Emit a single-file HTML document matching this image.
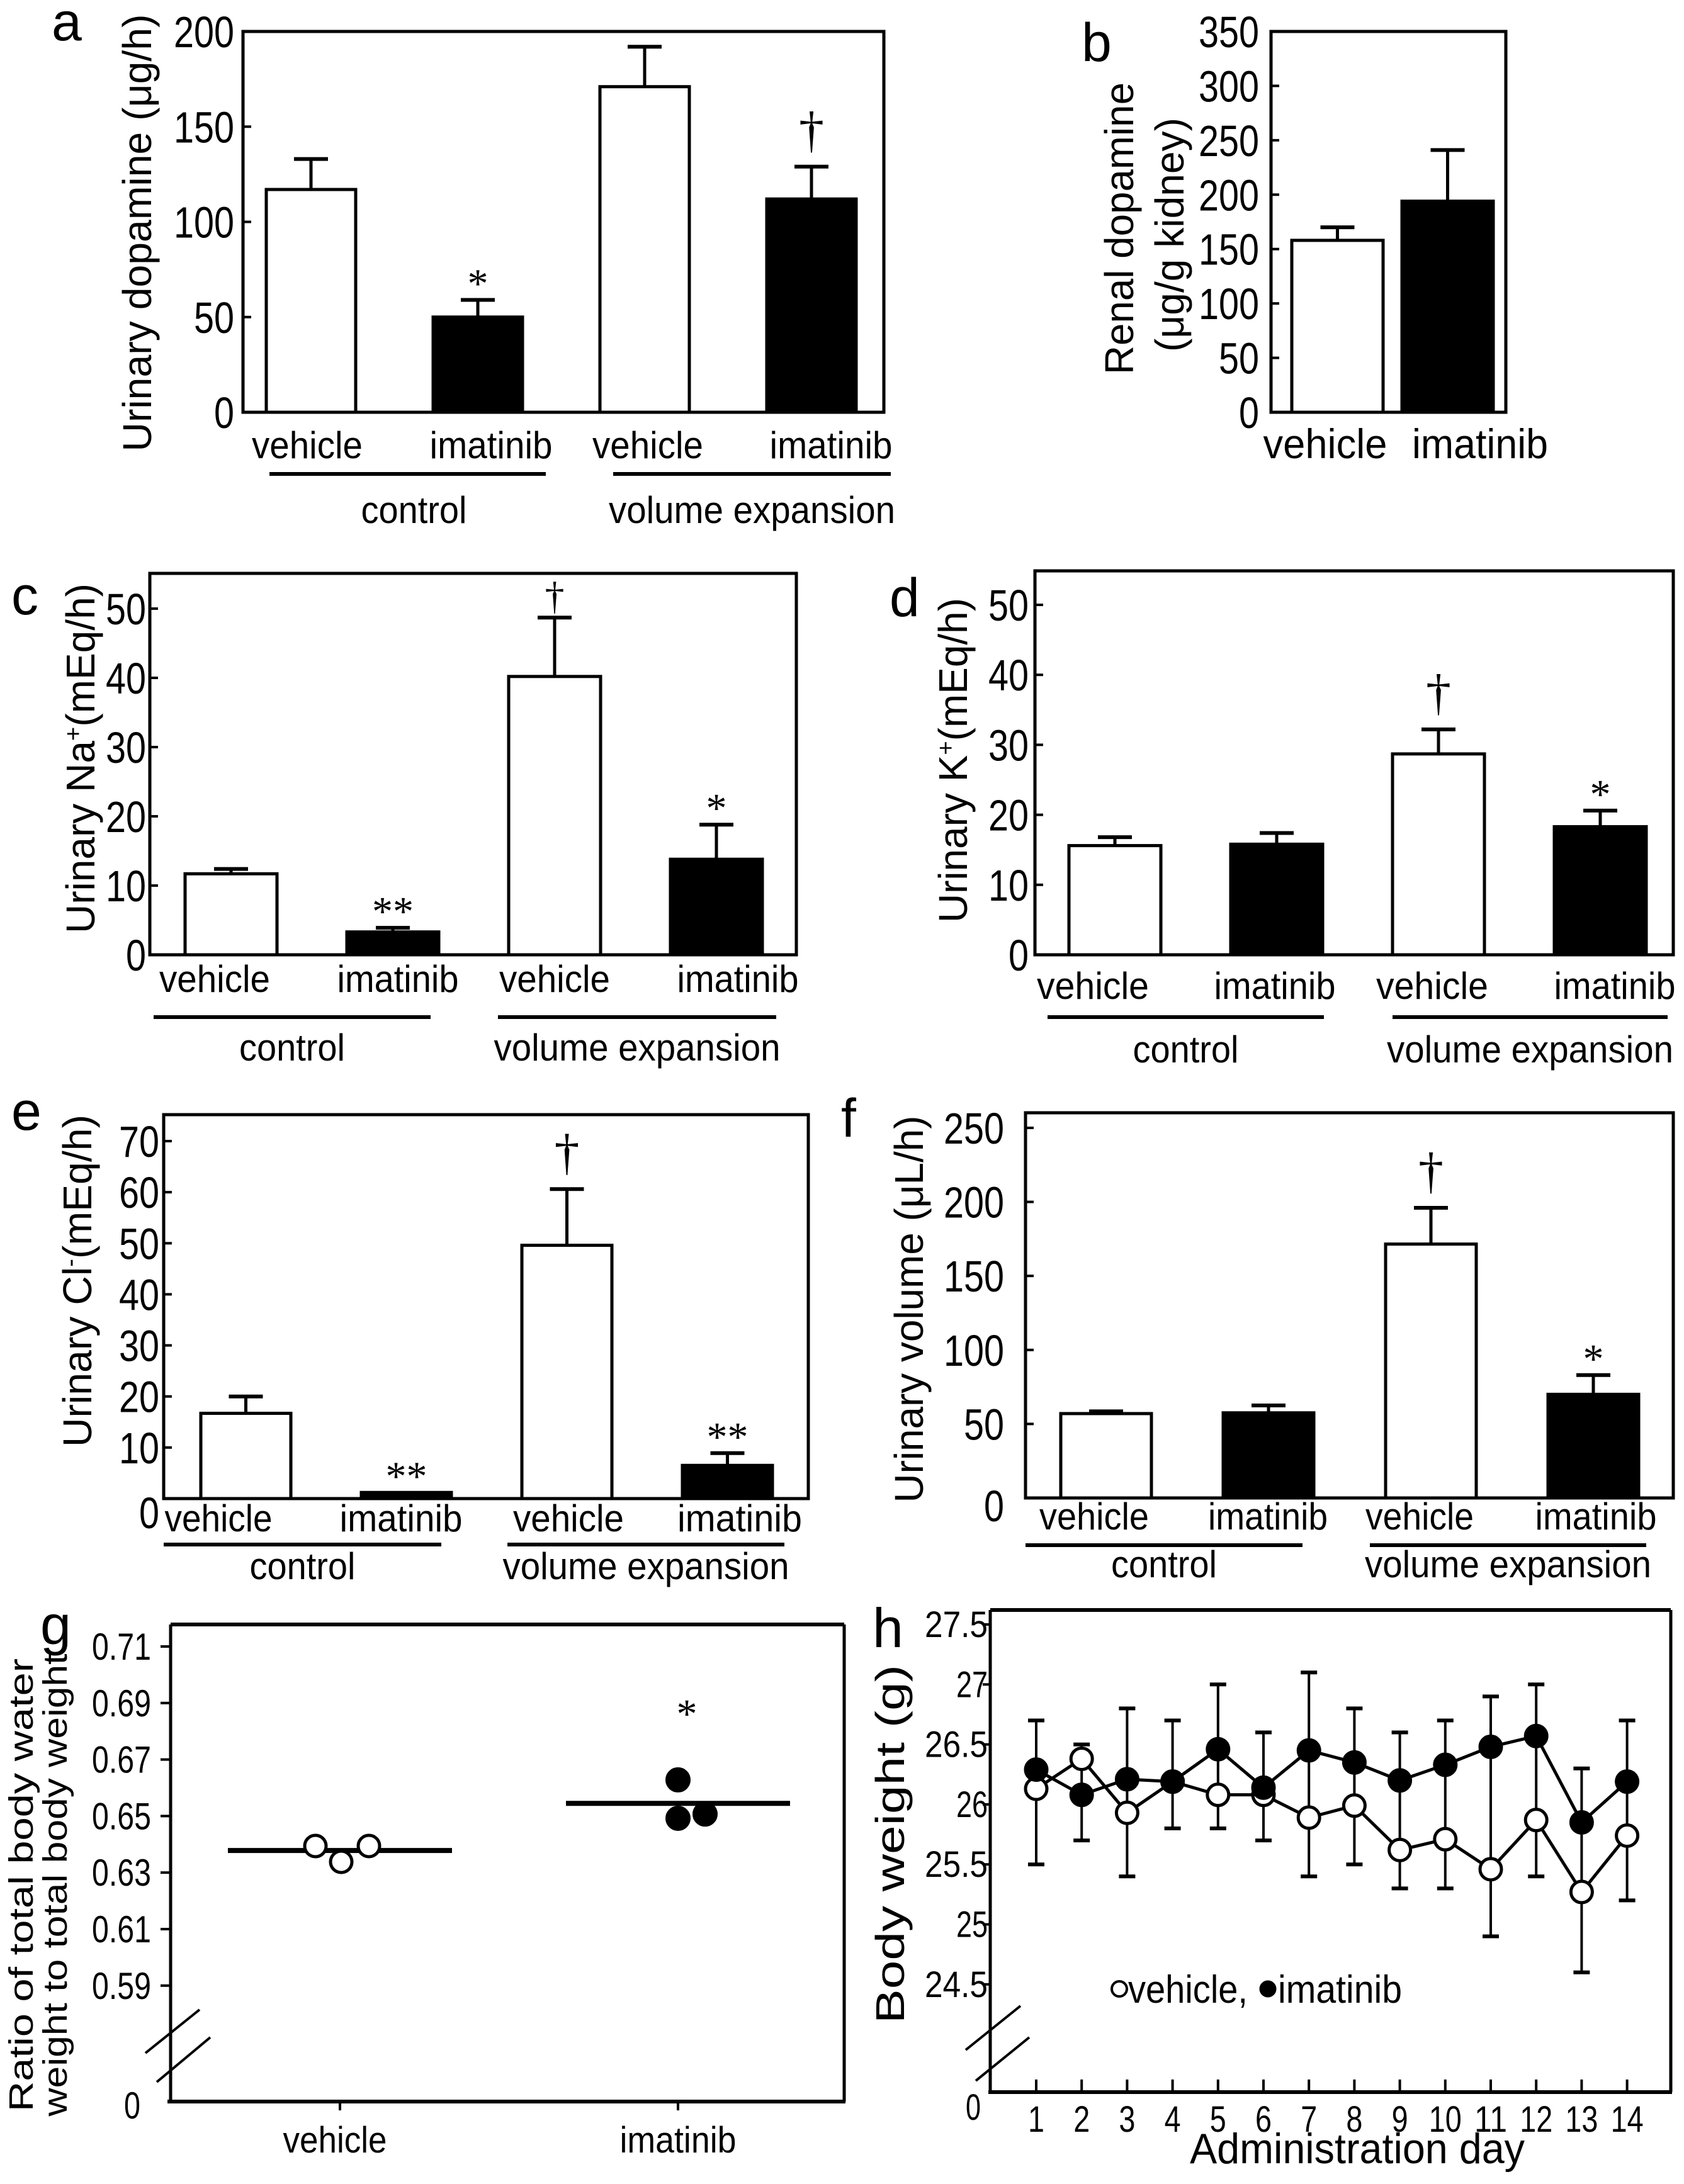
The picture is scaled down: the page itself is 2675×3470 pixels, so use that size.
<!DOCTYPE html>
<html><head><meta charset="utf-8"><title>Figure</title>
<style>html,body{margin:0;padding:0;background:#fff}svg{display:block}text{font-family:"Liberation Sans",Arial,sans-serif;fill:#000}</style>
</head><body>
<svg id="fig" xmlns="http://www.w3.org/2000/svg" width="2675" height="3470" viewBox="0 0 2675 3470"></svg>
<script>
// ---------- DATA ----------
const categories = ['vehicle','imatinib','vehicle','imatinib'];
const groups = ['control','volume expansion'];
const aValues = [117, 50, 171, 112];
const aErrors = [16, 9, 21, 17];
const aMarks = ['', '*', '', '†'];
const aTicks = [0, 50, 100, 150, 200];
const bCategories = ['vehicle','imatinib'];
const bValues = [158, 194];
const bErrors = [12, 47];
const bTicks = [0, 50, 100, 150, 200, 250, 300, 350];
const cValues = [11.7, 3.3, 40.2, 13.8];
const cErrors = [0.7, 0.6, 8.5, 5.0];
const cMarks = ['', '**', '†', '*'];
const cTicks = [0, 10, 20, 30, 40, 50];
const dValues = [15.6, 15.8, 28.7, 18.3];
const dErrors = [1.2, 1.6, 3.5, 2.3];
const dMarks = ['', '', '†', '*'];
const dTicks = [0, 10, 20, 30, 40, 50];
const eValues = [16.7, 1.2, 49.6, 6.5];
const eErrors = [3.3, 0, 11.0, 2.4];
const eMarks = ['', '**', '†', '**'];
const eTicks = [0, 10, 20, 30, 40, 50, 60, 70];
const fValues = [57, 57.5, 171.5, 70];
const fErrors = [1.5, 5, 24.5, 13];
const fMarks = ['', '', '†', '*'];
const fTicks = [0, 50, 100, 150, 200, 250];
const gVehicle = [0.6394, 0.6338, 0.6394];
const gImatinib = [0.6628, 0.6492, 0.6507];
const gMeans = [0.6378, 0.6545];
const gTicks = ['0.59','0.61','0.63','0.65','0.67','0.69','0.71'];
const hDays = [1,2,3,4,5,6,7,8,9,10,11,12,13,14];
const hVehicle = [26.13,26.38,25.93,26.19,26.08,26.08,25.89,25.99,25.62,25.71,25.46,25.87,25.27,25.74];
const hImatinib = [26.29,26.08,26.21,26.19,26.46,26.14,26.45,26.35,26.20,26.33,26.48,26.57,25.85,26.19];
const hVehicleErr = [0.63,0.68,0.53,0.39,0.28,0.38,0.49,0.49,0.32,0.41,0.56,0.47,0.67,0.54];
const hImatinibErr = [0.41,0.42,0.59,0.51,0.54,0.46,0.65,0.45,0.40,0.37,0.42,0.43,0.45,0.51];
const hTicks = ['24.5','25','25.5','26','26.5','27','27.5'];

// ---------- HELPERS ----------
const NS = 'http://www.w3.org/2000/svg';
const svg = document.getElementById('fig');
function mk(tag, attrs, parent) {
  const e = document.createElementNS(NS, tag);
  for (const k in attrs) e.setAttribute(k, attrs[k]);
  (parent || svg).appendChild(e);
  return e;
}
function txt(parent, x, y, str, size, anchor, len, name, fam) {
  const t = mk('text', {x: x, y: y, 'font-size': size, 'text-anchor': anchor || 'start'}, parent);
  if (len) { t.setAttribute('textLength', len); t.setAttribute('lengthAdjust', 'spacingAndGlyphs'); }
  if (fam) t.setAttribute('style', 'font-family:' + fam);
  t.textContent = str;
  
  
  return t;
}
function line(parent, x1, y1, x2, y2, w, name) {
  const l = mk('line', {x1: x1, y1: y1, x2: x2, y2: y2, stroke: '#000', 'stroke-width': w}, parent);
  
  
  return l;
}
function rotTitle(parent, x, y, str, size, len, name) {
  const t = mk('text', {x: 0, y: 0, 'font-size': size, 'text-anchor': 'middle', transform: 'translate(' + x + ',' + y + ') rotate(-90)', textLength: len, lengthAdjust: 'spacingAndGlyphs'}, parent);
  
  
  if (Array.isArray(str)) {
    str.forEach(function (s) {
      const sp = mk('tspan', s.sup ? {'baseline-shift': 'super', 'font-size': size * 0.6} : {}, t);
      sp.textContent = s.t;
    });
  } else t.textContent = str;
  return t;
}

// ---------- BAR PANELS ----------
function barPanel(L, cats, values, errors, marks, ticks) {
  const g = mk('g', {});
  
  
  const y = function (v) { return L.y0 - v * L.ppu; };
  ticks.forEach(function (tv) {
    const ty = y(tv);
    if (tv !== ticks[ticks.length - 1] || !L.topTickOnBorder) line(g, L.box[0], ty, L.box[0] + 13, ty, 4, 'y-tick');
    const s = String(tv);
    txt(g, L.tickRight, ty + 25 + (tv === 0 ? L.zeroDrop || 0 : 0), s, 70, 'end', s.length * 32, 'y-tick-label');
  });
  values.forEach(function (v, i) {
    const bx = L.x0 + i * L.step;
    const cx = bx + L.bw / 2;
    const r = mk('rect', {x: bx, y: y(v), width: L.bw, height: y(0) - y(v), fill: i % 2 ? '#000' : '#fff', stroke: '#000', 'stroke-width': 5}, g);
    
    
    const top = y(v + errors[i]);
    if (errors[i] > 0) {
      line(g, cx, y(v), cx, top, 5, 'error-bar');
      line(g, cx - 27, top, cx + 27, top, 6, 'error-cap');
    }
    if (marks && marks[i]) {
      const m = marks[i];
      if (m === '†') txt(g, cx, top - (L.daggerGap || 32), m, L.daggerSize || 80, 'middle', null, 'significance-dagger', '"Liberation Serif",serif');
      else txt(g, cx, top - 4, m, 66, 'middle', m.length * 33, 'significance-star', '"Liberation Serif",serif');
    }
    txt(g, L.labelX[i], L.labelY, cats[i], L.labelSize, 'middle', L.labelLen[i], 'x-label');
  });
  const bx = mk('rect', {x: L.box[0], y: L.box[1], width: L.box[2] - L.box[0], height: L.box[3] - L.box[1], fill: 'none', stroke: '#000', 'stroke-width': 5}, g);
  
  
  if (L.ul) {
    L.ul.forEach(function (u, k) {
      line(g, u[0], L.ulY, u[1], L.ulY, 6, 'group-underline');
      txt(g, (u[0] + u[1]) / 2 + (L.groupShift ? L.groupShift[k] : 0), L.groupY, groups[k], 60, 'middle', k ? 455 : 168, 'group-label');
    });
  }
  txt(g, L.letter[0], L.letter[1], L.letter[2], 86, 'start', null, 'panel-letter');
  return g;
}

const ga = barPanel({name: 'panel-a', box: [386, 50, 1404, 655], y0: 655, ppu: 605 / 200, x0: 423, step: 265, bw: 142,
  labelX: [488, 780, 1029, 1320], labelLen: [176, 195, 176, 195], labelY: 728, labelSize: 60,
  ul: [[428, 867], [974, 1415]], ulY: 753, groupY: 831, groupShift: [10, 0], tickRight: 372, letter: [82, 64, 'a'], topTickOnBorder: true},
  categories, aValues, aErrors, aMarks, aTicks);
rotTitle(ga, 240, 370, 'Urinary dopamine (μg/h)', 64, 695, 'y-axis-title');

const gb = barPanel({name: 'panel-b', box: [2019, 50, 2392, 655], y0: 655, ppu: 605 / 350, x0: 2052, step: 175, bw: 145,
  labelX: [2105, 2351], labelLen: [197, 216], labelY: 728, labelSize: 66, tickRight: 2000, letter: [1718, 97, 'b'], topTickOnBorder: true},
  bCategories, bValues, bErrors, null, bTicks);
rotTitle(gb, 1800, 363, 'Renal dopamine', 64, 464, 'y-axis-title');
rotTitle(gb, 1880, 373, '(μg/g kidney)', 64, 372, 'y-axis-title-unit');

const gc = barPanel({name: 'panel-c', box: [238, 911, 1265, 1517], y0: 1517, ppu: 11.0, x0: 294, step: 257, bw: 146,
  labelX: [341, 632, 881, 1172], labelLen: [176, 193, 176, 193], labelY: 1576, labelSize: 60,
  ul: [[244, 684], [791, 1233]], ulY: 1616, groupY: 1685, tickRight: 232, letter: [18, 976, 'c'], daggerGap: 14, daggerSize: 62},
  categories, cValues, cErrors, cMarks, cTicks);
rotTitle(gc, 150, 1205, [{t: 'Urinary Na'}, {t: '+', sup: true}, {t: '(mEq/h)'}], 64, 556, 'y-axis-title');

const gd = barPanel({name: 'panel-d', box: [1644, 907, 2658, 1517], y0: 1517, ppu: 11.12, x0: 1698, step: 257, bw: 146,
  labelX: [1736, 2025, 2275, 2565], labelLen: [178, 193, 178, 193], labelY: 1587, labelSize: 60,
  ul: [[1664, 2103], [2212, 2649]], ulY: 1616, groupY: 1688, tickRight: 1634, letter: [1413, 979, 'd']},
  categories, dValues, dErrors, dMarks, dTicks);
rotTitle(gd, 1536, 1208, [{t: 'Urinary K'}, {t: '+', sup: true}, {t: '(mEq/h)'}], 64, 516, 'y-axis-title');

const ge = barPanel({name: 'panel-e', box: [260, 1771, 1284, 2381], y0: 2381, ppu: 8.114, x0: 319, step: 255, bw: 143,
  labelX: [347, 637, 903, 1175], labelLen: [171, 195, 176, 198], labelY: 2433, labelSize: 60,
  ul: [[260, 701], [806, 1246]], ulY: 2454, groupY: 2509, tickRight: 253, zeroDrop: 22, letter: [18, 1795, 'e']},
  categories, eValues, eErrors, eMarks, eTicks);
rotTitle(ge, 145, 2035, [{t: 'Urinary Cl'}, {t: '-', sup: true}, {t: '(mEq/h)'}], 64, 528, 'y-axis-title');

const gf = barPanel({name: 'panel-f', box: [1629, 1768, 2658, 2380], y0: 2380, ppu: 588 / 250, x0: 1685, step: 258, bw: 144,
  labelX: [1738, 2014, 2255, 2535], labelLen: [174, 190, 172, 193], labelY: 2430, labelSize: 60,
  ul: [[1629, 2069], [2176, 2615]], ulY: 2455, groupY: 2506, tickRight: 1595, zeroDrop: 12, letter: [1336, 1806, 'f']},
  categories, fValues, fErrors, fMarks, fTicks);
rotTitle(gf, 1466, 2080, 'Urinary volume (μL/h)', 64, 615, 'y-axis-title');

// ---------- PANEL G ----------
(function () {
  const g = mk('g', {});
  
  
  const L = {left: 271, top: 2581, right: 1341, bottom: 3339};
  const y = function (v) { return 2616 + (0.71 - v) / 0.02 * 89.8; };
  const xc = [540, 1077];
  const jitV = [-39, 2, 46], jitI = [0, 0, 43];
  line(g, L.left, L.top, L.right, L.top, 6, 'frame-top');
  line(g, L.right, L.top, L.right, L.bottom, 5, 'frame-right');
  line(g, L.left, L.top, L.left, L.bottom, 5, 'y-axis');
  line(g, L.left - 5, L.bottom, L.right + 2, L.bottom, 6, 'x-axis');
  gTicks.forEach(function (s) {
    const ty = y(parseFloat(s));
    line(g, L.left - 16, ty, L.left, ty, 4, 'y-tick');
    txt(g, 240, ty + 21, s, 60, 'end', 94, 'y-tick-label');
  });
  txt(g, 223, 3366, '0', 60, 'end', 26, 'y-tick-label-zero');
  line(g, 317, 3193, 231, 3262, 4, 'axis-break');
  line(g, 334, 3237, 249, 3308, 4, 'axis-break');
  ['vehicle', 'imatinib'].forEach(function (c, i) {
    line(g, xc[i], L.bottom, xc[i], L.bottom + 14, 4, 'x-tick');
    txt(g, xc[i] + (i ? 0 : -8), 3420, c, 58, 'middle', i ? 185 : 165, 'x-label');
    line(g, xc[i] - 178, y(gMeans[i]), xc[i] + 178, y(gMeans[i]), 8, 'mean-line-' + c);
  });
  gVehicle.forEach(function (v, k) {
    const c = mk('circle', {cx: xc[0] + jitV[k], cy: y(v), r: 17, fill: '#fff', stroke: '#000', 'stroke-width': 5}, g);
    
    
  });
  gImatinib.forEach(function (v, k) {
    const c = mk('circle', {cx: xc[1] + jitI[k], cy: y(v), r: 19, fill: '#000', stroke: '#000', 'stroke-width': 2}, g);
    
    
  });
  txt(g, 1091, 2745, '*', 66, 'middle', null, 'significance-star', '"Liberation Serif",serif');
  rotTitle(g, 52, 2995, 'Ratio of total body water', 54, 720, 'y-axis-title-line1');
  rotTitle(g, 106, 2995, 'weight to total body weight', 54, 735, 'y-axis-title-line2');
  txt(g, 64, 2612, 'g', 88, 'start', null, 'panel-letter');
})();

// ---------- PANEL H ----------
(function () {
  const g = mk('g', {});
  
  
  const L = {left: 1573, top: 2558, right: 2654, bottom: 3324};
  const y = function (v) { return 2581 + (27.5 - v) / 0.5 * 95.3; };
  const x = function (d) { return 1646 + (d - 1) * 72.2; };
  line(g, L.left, L.top, L.right, L.top, 6, 'frame-top');
  line(g, L.right, L.top, L.right, L.bottom, 5, 'frame-right');
  line(g, L.left, L.top, L.left, L.bottom, 5, 'y-axis');
  line(g, L.left - 3, L.bottom, L.right + 2, L.bottom, 6, 'x-axis');
  hTicks.forEach(function (s) {
    const ty = y(parseFloat(s));
    line(g, L.left - 12, ty, L.left, ty, 4, 'y-tick');
    txt(g, 1569, ty + 20, s, 58, 'end', s.length * 25, 'y-tick-label');
  });
  txt(g, 1558, 3368, '0', 58, 'end', 24, 'y-tick-label-zero');
  line(g, 1621, 3187, 1534, 3257, 4, 'axis-break');
  line(g, 1635, 3237, 1550, 3306, 4, 'axis-break');
  hDays.forEach(function (d) {
    line(g, x(d), L.bottom - 20, x(d), L.bottom, 4, 'x-tick');
    txt(g, x(d), 3387, String(d), 58, 'middle', String(d).length * 26, 'x-tick-label');
  });
  hDays.forEach(function (d, i) {
    const hi = hImatinib[i] + hImatinibErr[i];
    const lo = hVehicle[i] - hVehicleErr[i];
    line(g, x(d), y(hi), x(d), y(lo), 4, 'error-bar');
    line(g, x(d) - 13, y(hi), x(d) + 13, y(hi), 6, 'error-cap-imatinib');
    line(g, x(d) - 13, y(lo), x(d) + 13, y(lo), 6, 'error-cap-vehicle');
  });
  function series(vals, name, filled) {
    const pts = vals.map(function (v, i) { return x(hDays[i]) + ',' + y(v); }).join(' ');
    const pl = mk('polyline', {points: pts, fill: 'none', stroke: '#000', 'stroke-width': 5}, g);
    
    
    vals.forEach(function (v, i) {
      const c = mk('circle', {cx: x(hDays[i]), cy: y(v), r: 17, fill: filled ? '#000' : '#fff', stroke: '#000', 'stroke-width': 5}, g);
      
      
    });
  }
  series(hVehicle, 'vehicle', false);
  series(hImatinib, 'imatinib', true);
  const lg = mk('g', {}, g);
  
  
  const c1 = mk('circle', {cx: 1778, cy: 3160, r: 12, fill: '#fff', stroke: '#000', 'stroke-width': 4}, lg);
  
  
  txt(lg, 1792, 3182, 'vehicle,', 62, 'start', 190, 'legend-entry-vehicle');
  const c2 = mk('circle', {cx: 2014, cy: 3160, r: 12, fill: '#000', stroke: '#000', 'stroke-width': 3}, lg);
  
  
  txt(lg, 2030, 3182, 'imatinib', 62, 'start', 197, 'legend-entry-imatinib');
  txt(g, 2156, 3437, 'Administration day', 68, 'middle', 532, 'x-axis-title');
  rotTitle(g, 1436, 2930, 'Body weight (g)', 64, 570, 'y-axis-title');
  txt(g, 1386, 2617, 'h', 88, 'start', null, 'panel-letter');
})();
</script>
</body></html>
